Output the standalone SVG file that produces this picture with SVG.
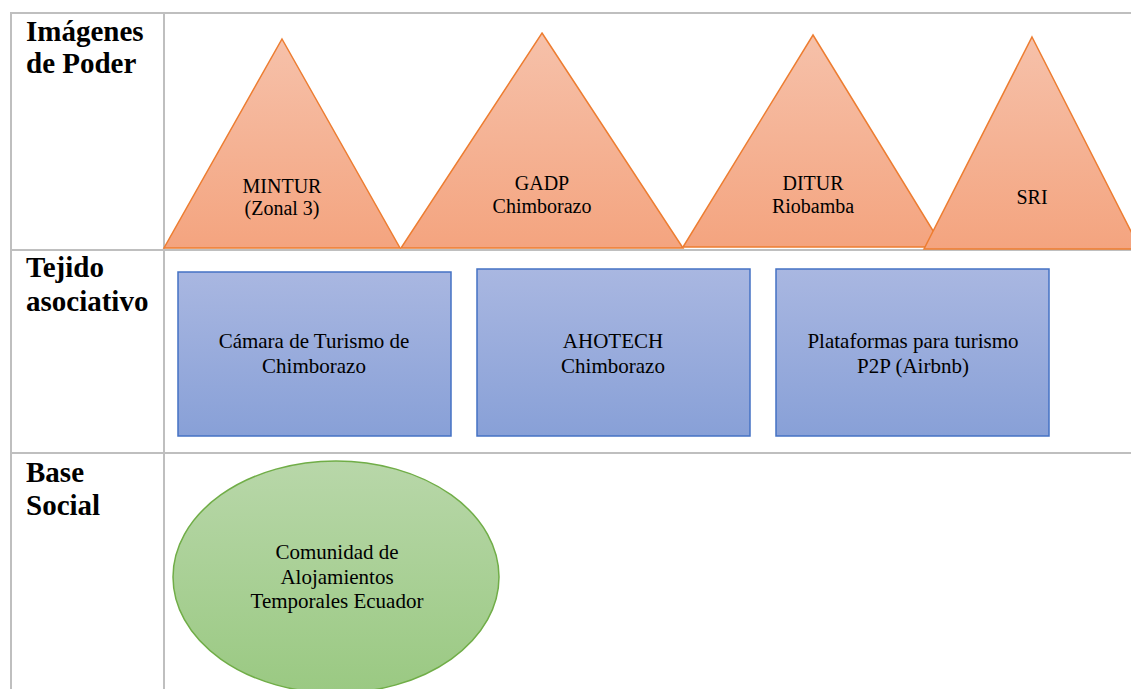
<svg xmlns="http://www.w3.org/2000/svg" width="1131" height="689" viewBox="0 0 1131 689">
  <style>
    .grid { stroke: #bfbfbf; stroke-width: 2; fill: none; }
    .hdr { font-family: "Liberation Serif", "Times New Roman", serif; font-weight: bold; font-size: 29px; fill: #000; }
    .tri { fill: url(#gOrange); stroke: #ed7d31; stroke-width: 1.5; stroke-linejoin: miter; }
    .box { fill: url(#gBlue); stroke: #4472c4; stroke-width: 1.5; }
    .ell { fill: url(#gGreen); stroke: #70ad47; stroke-width: 1.5; }
    .lbl { font-family: "Liberation Serif", "Times New Roman", serif; font-size: 20px; fill: #000; text-anchor: middle; }
    .lbl2 { font-family: "Liberation Serif", "Times New Roman", serif; font-size: 21px; fill: #000; text-anchor: middle; }
  </style>
  <defs>
    <linearGradient id="gOrange" x1="0" y1="0" x2="0" y2="1">
      <stop offset="0" stop-color="#f6c1aa"/>
      <stop offset="1" stop-color="#f4a47f"/>
    </linearGradient>
    <linearGradient id="gBlue" x1="0" y1="0" x2="0" y2="1">
      <stop offset="0" stop-color="#a9b7e1"/>
      <stop offset="1" stop-color="#88a0d7"/>
    </linearGradient>
    <linearGradient id="gGreen" x1="0" y1="0" x2="0" y2="1">
      <stop offset="0" stop-color="#b8d7a9"/>
      <stop offset="1" stop-color="#9ac982"/>
    </linearGradient>
  </defs>
  <rect x="0" y="0" width="1131" height="689" fill="#ffffff"/>

  <g id="table">
    <line class="grid" x1="11" y1="13" x2="1131" y2="13"/>
    <line class="grid" x1="11" y1="12" x2="11" y2="689"/>
    <line class="grid" x1="164" y1="12" x2="164" y2="689"/>
    <line class="grid" x1="11" y1="250" x2="1131" y2="250"/>
    <line class="grid" x1="11" y1="453" x2="1131" y2="453"/>
    <text class="hdr" x="26" y="41">Imágenes</text>
    <text class="hdr" x="26" y="73">de Poder</text>
    <text class="hdr" x="26" y="277">Tejido</text>
    <text class="hdr" x="26" y="311">asociativo</text>
    <text class="hdr" x="26" y="482">Base</text>
    <text class="hdr" x="26" y="515">Social</text>
  </g>

  <g id="mintur">
    <polygon class="tri" points="282,39 400,248 164,248"/>
    <text class="lbl" x="282" y="193">MINTUR</text>
    <text class="lbl" x="282" y="215">(Zonal 3)</text>
  </g>
  <g id="gadp">
    <polygon class="tri" points="542,33 683,248 401,248"/>
    <text class="lbl" x="542" y="190">GADP</text>
    <text class="lbl" x="542" y="213">Chimborazo</text>
  </g>
  <g id="ditur">
    <polygon class="tri" points="813,35 943,247 683,247"/>
    <text class="lbl" x="813" y="190">DITUR</text>
    <text class="lbl" x="813" y="213">Riobamba</text>
  </g>
  <g id="sri">
    <polygon class="tri" points="1032,37 1140,249 924,249"/>
    <text class="lbl" x="1032" y="204">SRI</text>
  </g>

  <g id="camara">
    <rect class="box" x="178" y="272" width="273" height="164"/>
    <text class="lbl2" x="314" y="348">Cámara de Turismo de</text>
    <text class="lbl2" x="314" y="373">Chimborazo</text>
  </g>
  <g id="ahotech">
    <rect class="box" x="477" y="269" width="273" height="167"/>
    <text class="lbl2" x="613" y="348">AHOTECH</text>
    <text class="lbl2" x="613" y="373">Chimborazo</text>
  </g>
  <g id="plataformas">
    <rect class="box" x="776" y="269" width="273" height="167"/>
    <text class="lbl2" x="913" y="348">Plataformas para turismo</text>
    <text class="lbl2" x="913" y="373">P2P (Airbnb)</text>
  </g>

  <g id="comunidad">
    <ellipse class="ell" cx="336" cy="577" rx="163" ry="116"/>
    <text class="lbl2" x="337" y="559">Comunidad de</text>
    <text class="lbl2" x="337" y="584">Alojamientos</text>
    <text class="lbl2" x="337" y="608">Temporales Ecuador</text>
  </g>

  <g id="connectors"></g>
</svg>
